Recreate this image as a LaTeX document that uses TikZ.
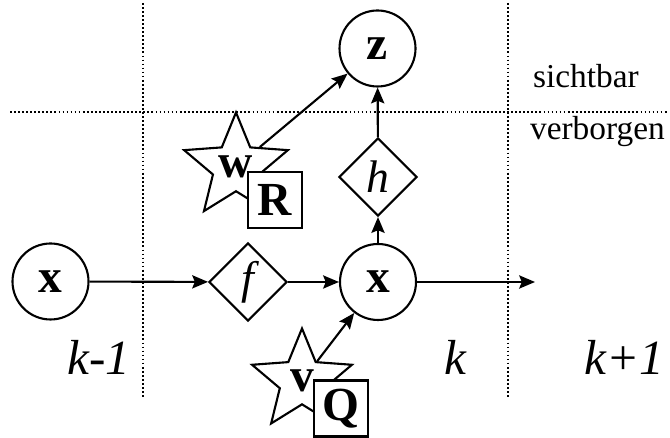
\documentclass[tikz,border=0pt]{standalone}
\usepackage{fontspec}
\setmainfont{Liberation Serif}
\usetikzlibrary{positioning,arrows.meta,shapes.geometric}

\begin{document}
\begin{tikzpicture}[line width=1.2pt,
  state/.style={draw,circle,minimum size=1.52cm,inner sep=0pt,font=\fontsize{27}{31}\selectfont\bfseries},
  fn/.style={draw,diamond,minimum size=1.56cm,inner sep=0pt,font=\fontsize{26}{30}\selectfont\itshape},
  noise/.style={draw,star,star points=5,star point ratio=2.25,minimum size=2.1cm,inner sep=0pt,font=\fontsize{27}{31}\selectfont\bfseries},
  cov/.style={draw,fill=white,minimum width=1.08cm,minimum height=1.12cm,inner sep=0pt,font=\fontsize{27}{31}\selectfont\bfseries},
  tlbl/.style={font=\fontsize{28}{32}\selectfont\itshape},
  zone/.style={anchor=base west,inner sep=0pt,font=\fontsize{19}{23}\selectfont},
  sep/.style={line width=1.1pt,dash pattern=on 1pt off 1.3pt},
  >={Stealth[length=9pt,width=7.5pt,inset=1.5pt]}]
\useasboundingbox (0,0) rectangle (13.4,8.76);
% time slices and visible/hidden split
\draw[sep] (2.86,8.70) -- (2.86,0.80);
\draw[sep] (10.16,8.70) -- (10.16,0.80);
\draw[sep] (0.2,6.52) -- (13.36,6.52);
% states and functions
\node[state] (xa) at (1.01,3.13) {x};
\node[fn] (f) at (4.96,3.12) {f};
\node[state] (xb) at (7.56,3.12) {x};
\node[fn] (h) at (7.56,5.22) {h};
\node[state] (z) at (7.55,7.79) {z};
\coordinate (out) at (10.7,3.12);
% noise terms
\node[noise] (w) at (4.72,5.42) {w};
\node[cov] (R) at (5.5,4.76) {R};
\node[noise] (v) at (6.04,1.14) {v};
\node[cov] (Q) at (6.82,0.59) {Q};
\draw[->] (xa) -- (f);
\draw[->] (f) -- (xb);
\draw[->] (xb) -- (out);
\draw[->] (xb) -- (h);
\draw[->] (h) -- (z);
\draw[->] (w) -- (z);
\draw[->] (v) -- (xb);
% labels
\node[tlbl] (km) at (1.98,1.62) {k-1};
\node[tlbl] (k) at (9.1,1.62) {k};
\node[tlbl] (kp) at (12.49,1.62) {k+1};
\node[zone] (vis) at (10.64,7.0) {sichtbar};
\node[zone] (hid) at (10.58,5.96) {verborgen};
\end{tikzpicture}
\end{document}
